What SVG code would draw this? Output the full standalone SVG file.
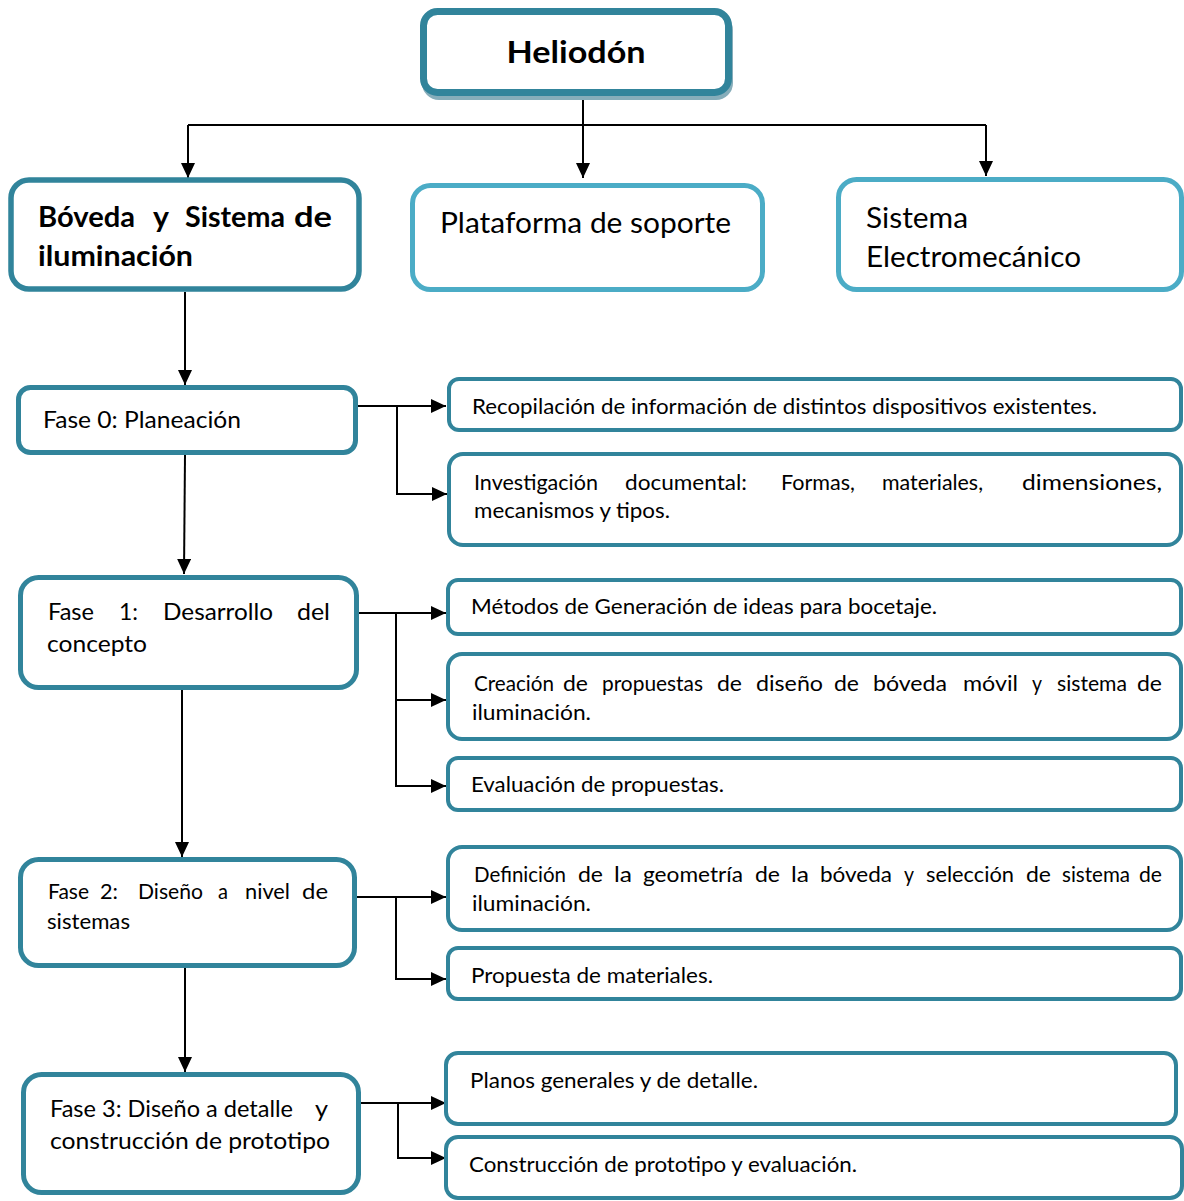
<svg xmlns="http://www.w3.org/2000/svg" width="1184" height="1201" viewBox="0 0 1184 1201">
<style>
  .dk{fill:#ffffff;stroke:#31849b;}
  .lt{fill:#ffffff;stroke:#4bacc6;}
  .t{font-family:Lato,"Open Sans","Liberation Sans",sans-serif;fill:#000000;}
  .b{font-weight:bold;}
  .r{font-size:21px;}
  .l{font-size:23px;}
  .c{fill:none;stroke:#000000;stroke-width:2;}
</style>
<defs>
  <marker id="ah" markerUnits="userSpaceOnUse" markerWidth="16" markerHeight="14" refX="15" refY="7" orient="auto">
    <path d="M0,0 L15,7 L0,14 z" fill="#000000"/>
  </marker>
</defs>
<rect width="1184" height="1201" fill="#ffffff"/>

<g id="connectors">
  <path class="c" d="M583,97 V178" marker-end="url(#ah)"/>
  <path class="c" d="M188,125 H986"/>
  <path class="c" d="M188,125 V178" marker-end="url(#ah)"/>
  <path class="c" d="M986,125 V176" marker-end="url(#ah)"/>
  <path class="c" d="M185,292 V385" marker-end="url(#ah)"/>
  <path class="c" d="M185,455 L184,574" marker-end="url(#ah)"/>
  <path class="c" d="M182,690 V857" marker-end="url(#ah)"/>
  <path class="c" d="M185,968 V1072" marker-end="url(#ah)"/>
  <path class="c" d="M358,406 H446" marker-end="url(#ah)"/>
  <path class="c" d="M397,406 V494 H447" marker-end="url(#ah)"/>
  <path class="c" d="M359,613 H446" marker-end="url(#ah)"/>
  <path class="c" d="M396,613 V786 H446" marker-end="url(#ah)"/>
  <path class="c" d="M396,700 H446" marker-end="url(#ah)"/>
  <path class="c" d="M357,897 H446" marker-end="url(#ah)"/>
  <path class="c" d="M396,897 V979 H446" marker-end="url(#ah)"/>
  <path class="c" d="M361,1103 H446" marker-end="url(#ah)"/>
  <path class="c" d="M398,1103 V1158 H446" marker-end="url(#ah)"/>
</g>

<g id="heliodon">
  <rect x="425" y="16" width="305" height="81" rx="14" fill="none" stroke="#86adba" stroke-width="6"/>
  <rect class="dk" x="423.5" y="11.5" width="305" height="81" rx="14" stroke-width="7"/>
  <text class="t b" x="576" y="63" font-size="31" text-anchor="middle" textLength="139" lengthAdjust="spacingAndGlyphs">Heliodón</text>
</g>

<g id="boveda">
  <rect class="dk" x="11" y="180" width="348" height="109" rx="18" stroke-width="5.5"/>
  <text class="t b" font-size="28" y="227"><tspan x="38" textLength="97" lengthAdjust="spacingAndGlyphs">Bóveda</tspan><tspan x="153" textLength="16" lengthAdjust="spacingAndGlyphs">y</tspan><tspan x="185" textLength="100" lengthAdjust="spacingAndGlyphs">Sistema</tspan><tspan x="294" textLength="38" lengthAdjust="spacingAndGlyphs">de</tspan></text>
  <text class="t b" font-size="28" x="38" y="266" textLength="155" lengthAdjust="spacingAndGlyphs">iluminación</text>
</g>

<g id="plataforma">
  <rect class="lt" x="412.5" y="185.5" width="350" height="104" rx="18" stroke-width="5"/>
  <text class="t" font-size="29" x="440" y="233" textLength="291" lengthAdjust="spacingAndGlyphs">Plataforma de soporte</text>
</g>

<g id="sistema">
  <rect class="lt" x="838.5" y="179.5" width="343" height="110" rx="18" stroke-width="5"/>
  <text class="t" font-size="29" x="866" y="228" textLength="102" lengthAdjust="spacingAndGlyphs">Sistema</text>
  <text class="t" font-size="29" x="866" y="267" textLength="215" lengthAdjust="spacingAndGlyphs">Electromecánico</text>
</g>

<g id="fase0">
  <rect class="dk" x="18.5" y="387.5" width="337" height="65" rx="12" stroke-width="5"/>
  <text class="t l" x="43" y="428" textLength="198" lengthAdjust="spacingAndGlyphs">Fase 0: Planeación</text>
</g>

<g id="fase1">
  <rect class="dk" x="20.5" y="577.5" width="336" height="110" rx="18" stroke-width="5"/>
  <text class="t l" y="620"><tspan x="48" textLength="46" lengthAdjust="spacingAndGlyphs">Fase</tspan><tspan x="119" textLength="19" lengthAdjust="spacingAndGlyphs">1:</tspan><tspan x="163" textLength="110" lengthAdjust="spacingAndGlyphs">Desarrollo</tspan><tspan x="297" textLength="33" lengthAdjust="spacingAndGlyphs">del</tspan></text>
  <text class="t l" x="47" y="652" textLength="100" lengthAdjust="spacingAndGlyphs">concepto</text>
</g>

<g id="fase2">
  <rect class="dk" x="20.5" y="859.5" width="334" height="106" rx="18" stroke-width="5"/>
  <text class="t" font-size="22" y="899"><tspan x="48" textLength="41" lengthAdjust="spacingAndGlyphs">Fase</tspan><tspan x="100" textLength="18" lengthAdjust="spacingAndGlyphs">2:</tspan><tspan x="138" textLength="65" lengthAdjust="spacingAndGlyphs">Diseño</tspan><tspan x="218" textLength="10" lengthAdjust="spacingAndGlyphs">a</tspan><tspan x="245" textLength="45" lengthAdjust="spacingAndGlyphs">nivel</tspan><tspan x="302" textLength="26" lengthAdjust="spacingAndGlyphs">de</tspan></text>
  <text class="t" font-size="22" x="47" y="929" textLength="83" lengthAdjust="spacingAndGlyphs">sistemas</text>
</g>

<g id="fase3">
  <rect class="dk" x="23.5" y="1074.5" width="335" height="118" rx="18" stroke-width="5"/>
  <text class="t l" y="1117"><tspan x="50" textLength="243" lengthAdjust="spacingAndGlyphs">Fase 3: Diseño a detalle</tspan><tspan x="315" textLength="13" lengthAdjust="spacingAndGlyphs">y</tspan></text>
  <text class="t l" x="50" y="1149" textLength="280" lengthAdjust="spacingAndGlyphs">construcción de prototipo</text>
</g>

<g id="recopilacion">
  <rect class="dk" x="449" y="379" width="732" height="51" rx="10" stroke-width="4"/>
  <text class="t r" x="472" y="414" textLength="625" lengthAdjust="spacingAndGlyphs">Recopilación de información de distintos dispositivos existentes.</text>
</g>

<g id="investigacion">
  <rect class="dk" x="449" y="454" width="732" height="91" rx="14" stroke-width="4"/>
  <text class="t r" y="490"><tspan x="474" textLength="124" lengthAdjust="spacingAndGlyphs">Investigación</tspan><tspan x="625" textLength="122" lengthAdjust="spacingAndGlyphs">documental:</tspan><tspan x="781" textLength="74" lengthAdjust="spacingAndGlyphs">Formas,</tspan><tspan x="882" textLength="101" lengthAdjust="spacingAndGlyphs">materiales,</tspan><tspan x="1022" textLength="140" lengthAdjust="spacingAndGlyphs">dimensiones,</tspan></text>
  <text class="t r" x="474" y="518" textLength="196" lengthAdjust="spacingAndGlyphs">mecanismos y tipos.</text>
</g>

<g id="metodos">
  <rect class="dk" x="448" y="580" width="733" height="54" rx="10" stroke-width="4"/>
  <text class="t r" x="471" y="614" textLength="466" lengthAdjust="spacingAndGlyphs">Métodos de Generación de ideas para bocetaje.</text>
</g>

<g id="creacion">
  <rect class="dk" x="448" y="654" width="733" height="85" rx="14" stroke-width="4"/>
  <text class="t r" y="691"><tspan x="474" textLength="80" lengthAdjust="spacingAndGlyphs">Creación</tspan><tspan x="563" textLength="25" lengthAdjust="spacingAndGlyphs">de</tspan><tspan x="602" textLength="101" lengthAdjust="spacingAndGlyphs">propuestas</tspan><tspan x="717" textLength="25" lengthAdjust="spacingAndGlyphs">de</tspan><tspan x="756" textLength="67" lengthAdjust="spacingAndGlyphs">diseño</tspan><tspan x="834" textLength="25" lengthAdjust="spacingAndGlyphs">de</tspan><tspan x="873" textLength="74" lengthAdjust="spacingAndGlyphs">bóveda</tspan><tspan x="963" textLength="55" lengthAdjust="spacingAndGlyphs">móvil</tspan><tspan x="1032" textLength="10" lengthAdjust="spacingAndGlyphs">y</tspan><tspan x="1057" textLength="70" lengthAdjust="spacingAndGlyphs">sistema</tspan><tspan x="1137" textLength="25" lengthAdjust="spacingAndGlyphs">de</tspan></text>
  <text class="t r" x="472" y="720" textLength="119" lengthAdjust="spacingAndGlyphs">iluminación.</text>
</g>

<g id="evaluacion">
  <rect class="dk" x="448" y="758" width="733" height="52" rx="10" stroke-width="4"/>
  <text class="t r" x="471" y="792" textLength="253" lengthAdjust="spacingAndGlyphs">Evaluación de propuestas.</text>
</g>

<g id="definicion">
  <rect class="dk" x="448" y="847" width="733" height="83" rx="14" stroke-width="4"/>
  <text class="t r" y="882"><tspan x="474" textLength="92" lengthAdjust="spacingAndGlyphs">Definición</tspan><tspan x="578" textLength="25" lengthAdjust="spacingAndGlyphs">de</tspan><tspan x="614" textLength="18" lengthAdjust="spacingAndGlyphs">la</tspan><tspan x="643" textLength="100" lengthAdjust="spacingAndGlyphs">geometría</tspan><tspan x="755" textLength="25" lengthAdjust="spacingAndGlyphs">de</tspan><tspan x="791" textLength="18" lengthAdjust="spacingAndGlyphs">la</tspan><tspan x="820" textLength="72" lengthAdjust="spacingAndGlyphs">bóveda</tspan><tspan x="904" textLength="10" lengthAdjust="spacingAndGlyphs">y</tspan><tspan x="926" textLength="88" lengthAdjust="spacingAndGlyphs">selección</tspan><tspan x="1026" textLength="25" lengthAdjust="spacingAndGlyphs">de</tspan><tspan x="1062" textLength="68" lengthAdjust="spacingAndGlyphs">sistema</tspan><tspan x="1139" textLength="23" lengthAdjust="spacingAndGlyphs">de</tspan></text>
  <text class="t r" x="472" y="911" textLength="119" lengthAdjust="spacingAndGlyphs">iluminación.</text>
</g>

<g id="propuesta">
  <rect class="dk" x="448" y="948" width="733" height="51" rx="10" stroke-width="4"/>
  <text class="t r" x="471" y="983" textLength="242" lengthAdjust="spacingAndGlyphs">Propuesta de materiales.</text>
</g>

<g id="planos">
  <rect class="dk" x="446" y="1053" width="730" height="71" rx="12" stroke-width="4"/>
  <text class="t r" x="470" y="1088" textLength="288" lengthAdjust="spacingAndGlyphs">Planos generales y de detalle.</text>
</g>

<g id="construccion">
  <rect class="dk" x="446" y="1137" width="736" height="61" rx="12" stroke-width="4"/>
  <text class="t r" x="469" y="1172" textLength="388" lengthAdjust="spacingAndGlyphs">Construcción de prototipo y evaluación.</text>
</g>
</svg>
